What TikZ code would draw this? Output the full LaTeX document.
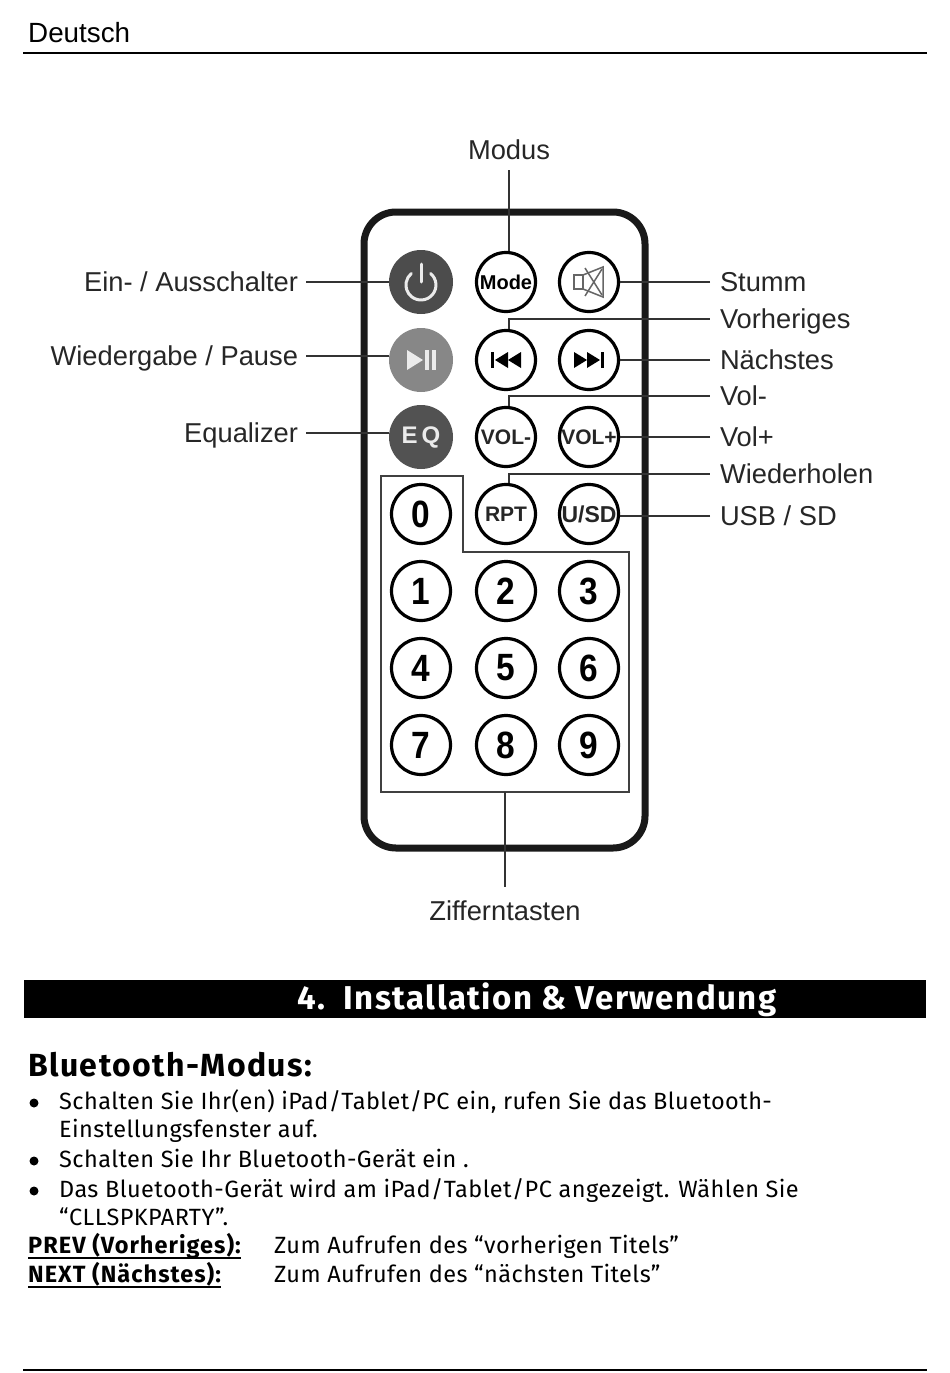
\documentclass[tikz,border=0pt]{standalone}
\usepackage{fontspec}
\setmainfont{Liberation Sans}
\newfontfamily\bodyfont[LetterSpace=1.8]{Fira Sans}
\newfontfamily\headfont[LetterSpace=4.4]{Fira Sans}
\tikzset{
  btn/.style={circle,draw,line width=3.2pt,inner sep=0pt,minimum size=59pt,fill=white},
  btnlabel/.style={font=\fontsize{21}{21}\selectfont\bfseries,text=black!85},
  darkbtn/.style={circle,inner sep=0pt,minimum size=64pt,text=black!8,font=\fontsize{24}{24}\selectfont\bfseries},
  rlabel/.style={anchor=west,inner sep=0pt,outer sep=10pt,text height=21pt,text depth=3pt,font=\fontsize{27.3}{27.3}\selectfont,text=black!85},
  llabel/.style={rlabel,anchor=east,outer sep=8pt},
  lead/.style={line width=1.6pt,black!80},
  body/.style={anchor=base west,inner sep=0pt,font=\fontsize{23.5}{23.5}\selectfont\bodyfont},
  strong/.style={anchor=base west,inner sep=0pt,font=\fontsize{23.5}{23.5}\selectfont\headfont\bfseries},
  bullet/.style={circle,fill,inner sep=0pt,minimum size=9pt}
}
\newcommand{\digitface}[1]{\scalebox{.88}[1]{\fontsize{38}{38}\selectfont\bfseries #1}}
\begin{document}
\begin{tikzpicture}[x=1pt,y=-1pt]
\useasboundingbox (0,0) rectangle (950,1373);
\def\colA{421}\def\colB{506}\def\colC{589}
\node[anchor=base west,inner sep=0pt,font=\fontsize{27.8}{27.8}\selectfont] (pageLang) at (28,42) {Deutsch};
\coordinate (topL) at (23,53);
\coordinate (topR) at (927,53);
\draw[line width=2pt] (topL) -- (topR);
\draw[line width=7pt,black!90,rounded corners=32pt] (364,212) rectangle (645,848);
\draw[line width=2.2pt,black!75] (381,476) -- (463,476) -- (463,552) -- (629,552) -- (629,792) -- (381,792) -- cycle;
\node[darkbtn,fill=black!70] (btnPower) at (\colA,282) {};
\node[darkbtn,fill=black!47] (btnPlay) at (\colA,360) {};
\node[darkbtn,fill=black!68] (btnEq) at (\colA,437) {E\,Q};
\node[btn] (btnMode) at (\colB,282) {\fontsize{20}{20}\selectfont\bfseries Mode};
\node[btn] (btnMute) at (\colC,282) {};
\node[btn] (btnPrev) at (\colB,360) {};
\node[btn] (btnNext) at (\colC,360) {};
\node[btn,btnlabel] (btnVolDown) at (\colB,437) {VOL-};
\node[btn,btnlabel] (btnVolUp) at (\colC,437) {VOL+};
\node[btn,btnlabel] (btnRpt) at (\colB,514) {RPT};
\node[btn,btnlabel] (btnUsb) at (\colC,514) {\fontsize{23}{23}\selectfont U/SD};
\node[btn] (btnZero) at (\colA,514) {\digitface{0}};
\foreach \num/\cx/\cy in {1/\colA/591,2/\colB/591,3/\colC/591,4/\colA/668,5/\colB/668,6/\colC/668,7/\colA/745,8/\colB/745,9/\colC/745}
  \node[btn] (btnDigit\num) at (\cx,\cy) {\digitface{\num}};
\begin{scope}[shift={(btnPower)}]
\draw[line width=3pt,black!8,line cap=round] (9.6,-8.5) arc[start angle=50,end angle=-230,radius=15pt];
\draw[line width=3pt,black!8,line cap=round] (0,-18) -- (0,0);
\end{scope}
\begin{scope}[shift={(btnPlay)},black!8]
\fill (-14,-10) -- (2,0) -- (-14,10) -- cycle;
\fill (4,-10) rectangle (8,10);
\fill (11,-10) rectangle (15,10);
\end{scope}
\begin{scope}[shift={(btnPrev)}]
\fill (-15,-8) rectangle (-12,8);
\fill (-11,0) -- (2,-8) -- (2,8) -- cycle;
\fill (2,0) -- (15,-8) -- (15,8) -- cycle;
\end{scope}
\begin{scope}[shift={(btnNext)}]
\fill (15,-8) rectangle (12,8);
\fill (11,0) -- (-2,-8) -- (-2,8) -- cycle;
\fill (-2,0) -- (-15,-8) -- (-15,8) -- cycle;
\end{scope}
\begin{scope}[shift={(btnMute)},black!60,line width=1.5pt]
\draw (-15,-7) rectangle (-6,7);
\draw (-6,-7) -- (14,-15) -- (14,15) -- (-6,7);
\draw (-4,-14) -- (13,13);
\draw (13,-13) -- (-4,14);
\end{scope}
\node[llabel] (lblPower) at (306,282) {Ein- / Ausschalter};
\node[llabel] (lblPlay) at (306,356) {Wiedergabe / Pause};
\node[llabel] (lblEq) at (306,433) {Equalizer};
\node[rlabel] (lblMute) at (710,282) {Stumm};
\node[rlabel] (lblPrev) at (710,319) {Vorheriges};
\node[rlabel] (lblNext) at (710,360) {Nächstes};
\node[rlabel] (lblVolDown) at (710,396) {Vol-};
\node[rlabel] (lblVolUp) at (710,437) {Vol+};
\node[rlabel] (lblRpt) at (710,474) {Wiederholen};
\node[rlabel] (lblUsb) at (710,516) {USB / SD};
\node[rlabel,anchor=center,outer sep=8pt] (lblMode) at (509,150) {Modus};
\node[rlabel,anchor=center,outer sep=12pt] (lblDigits) at (505,911) {Zifferntasten};
\coordinate (digitBox) at (505,792);
\draw[lead] (lblPower) -- (btnPower);
\draw[lead] (lblPlay) -- (btnPlay.west |- lblPlay);
\draw[lead] (lblEq) -- (btnEq.west |- lblEq);
\draw[lead] (lblMute) -- (btnMute);
\draw[lead] (lblNext) -- (btnNext);
\draw[lead] (lblVolUp) -- (btnVolUp);
\draw[lead] (lblUsb.west) -- (btnUsb.east |- lblUsb);
\draw[lead] ([xshift=3pt]btnMode.north) -- ([xshift=3pt]btnMode.north |- lblMode.south);
\draw[lead] ([xshift=3pt]btnPrev.north) |- (lblPrev);
\draw[lead] ([xshift=3pt]btnVolDown.north) |- (lblVolDown);
\draw[lead] ([xshift=3pt]btnRpt.north) |- (lblRpt);
\draw[lead] (digitBox) -- (lblDigits);
\node[fill=black,anchor=north west,minimum width=902pt,minimum height=38pt,inner sep=0pt] (titleBar) at (24,980) {};
\node[anchor=base west,inner sep=0pt,text=white,font=\fontsize{33}{33}\selectfont\headfont\bfseries] (titleText) at (297,1009) {4.\ \ Installation \& Verwendung};
\node[anchor=base west,inner sep=0pt,font=\fontsize{32}{32}\selectfont\headfont\bfseries] (btHead) at (28,1076) {Bluetooth-Modus:};
\node[bullet] (bulA) at (34,1103) {};
\node[bullet] (bulB) at (34,1161) {};
\node[bullet] (bulC) at (34,1191) {};
\node[body] (txtA) at (59,1109) {Schalten Sie Ihr(en) iPad/Tablet/PC ein, rufen Sie das Bluetooth-};
\node[body] (txtB) at (59,1137) {Einstellungsfenster auf.};
\node[body] (txtC) at (59,1167) {Schalten Sie Ihr Bluetooth-Gerät ein .};
\node[body] (txtD) at (59,1197) {Das Bluetooth-Gerät wird am iPad/Tablet/PC angezeigt. Wählen Sie};
\node[body] (txtE) at (59,1225) {“CLLSPKPARTY”.};
\node[strong] (prevKey) at (28,1253) {PREV (Vorheriges):};
\node[strong] (nextKey) at (28,1282) {NEXT (Nächstes):};
\node[body] (prevTxt) at (274,1253) {Zum Aufrufen des “vorherigen Titels”};
\node[body] (nextTxt) at (274,1282) {Zum Aufrufen des “nächsten Titels”};
\draw[line width=2.5pt] ([yshift=-5pt]prevKey.base west) -- ([yshift=-5pt]prevKey.base east);
\draw[line width=2.5pt] ([yshift=-5pt]nextKey.base west) -- ([yshift=-5pt]nextKey.base east);
\coordinate (botL) at (23,1370);
\coordinate (botR) at (927,1370);
\draw[line width=2pt] (botL) -- (botR);
\end{tikzpicture}
\end{document}
